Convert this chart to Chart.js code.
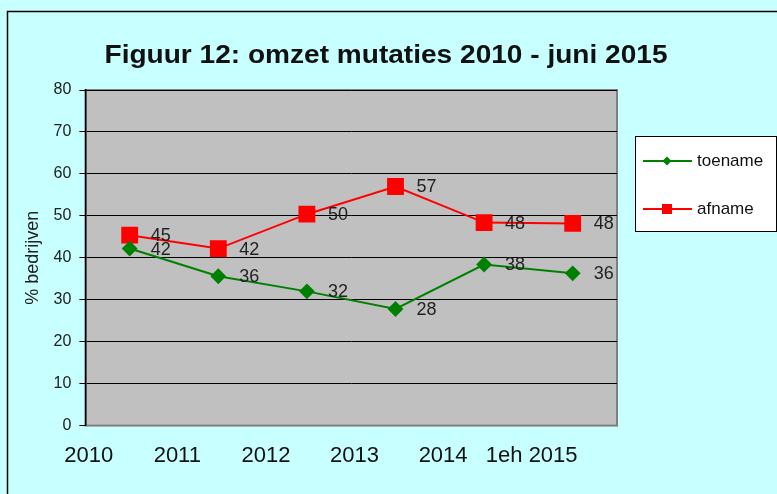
<!DOCTYPE html>
<html>
<head>
<meta charset="utf-8">
<script src="https://cdn.jsdelivr.net/npm/chart.js@4/dist/chart.umd.min.js"></script>
<style>
  html, body { margin: 0; padding: 0; background: #c8ffff; }
  #wrap { width: 777px; height: 494px; }
</style>
</head>
<body>
<div id="wrap"><canvas id="omzetChart" width="777" height="494"></canvas></div>
<script>
const years = ["2010", "2011", "2012", "2013", "2014", "1eh 2015"];
const toename = [42.2, 35.6, 32.0, 27.8, 38.4, 36.3];
const afname = [45.4, 42.2, 50.4, 57.0, 48.4, 48.2];
const yTicks = [0, 10, 20, 30, 40, 50, 60, 70, 80];

const FONT = "'Liberation Sans', Arial, sans-serif";
const ctx = document.getElementById("omzetChart").getContext("2d");

// cyan page + outer frame + grey plot box
const backgroundPlugin = {
  id: "backgroundPlugin",
  beforeDraw: (chart) => {
    const { ctx, chartArea } = chart;
    ctx.save();
    ctx.fillStyle = "#c8ffff";
    ctx.fillRect(0, 0, chart.width, chart.height);
    ctx.strokeStyle = "#000";
    ctx.lineWidth = 1.5;
    ctx.beginPath();
    ctx.moveTo(7.5, chart.height);
    ctx.lineTo(7.5, 11.5);
    ctx.lineTo(chart.width, 11.5);
    ctx.stroke();
    ctx.fillStyle = "#c0c0c0";
    ctx.fillRect(chartArea.left, chartArea.top, chartArea.right - chartArea.left, chartArea.bottom - chartArea.top);
    ctx.strokeStyle = "#808080";
    ctx.lineWidth = 2;
    ctx.strokeRect(chartArea.left, chartArea.top, chartArea.right - chartArea.left, chartArea.bottom - chartArea.top);
    ctx.restore();
  },
};

// title is a bit wider than a normal font in the original
const titlePlugin = {
  id: "titlePlugin",
  afterDraw: (chart) => {
    const { ctx } = chart;
    const text = "Figuur 12: omzet mutaties 2010 - juni 2015";
    ctx.save();
    ctx.font = "bold 26px " + FONT;
    const w = ctx.measureText(text).width;
    ctx.translate(386, 63);
    ctx.scale(563 / w, 1);
    ctx.fillStyle = "#111";
    ctx.textAlign = "center";
    ctx.textBaseline = "alphabetic";
    ctx.fillText(text, 0, 0);
    ctx.restore();
  },
};

const valueLabels = {
  id: "valueLabels",
  afterDatasetsDraw(chart) {
    const { ctx, data } = chart;
    ctx.save();
    ctx.font = "18px " + FONT;
    ctx.fillStyle = "#222";
    ctx.textBaseline = "middle";
    data.datasets.forEach((ds, di) => {
      const meta = chart.getDatasetMeta(di);
      meta.data.forEach((pt, i) => {
        ctx.fillText(String(Math.round(ds.data[i])), pt.x + 21, pt.y + 1);
      });
    });
    ctx.restore();
  },
};

const boxLegend = {
  id: "boxLegend",
  afterDraw(chart) {
    const { ctx, data } = chart;
    const box = { x: 635.5, y: 136.5, w: 141, h: 95 };
    ctx.save();
    ctx.fillStyle = "#fff";
    ctx.fillRect(box.x, box.y, box.w, box.h);
    ctx.strokeStyle = "#000";
    ctx.lineWidth = 1;
    ctx.strokeRect(box.x, box.y, box.w, box.h);
    ctx.font = "17px " + FONT;
    ctx.textBaseline = "middle";
    data.datasets.forEach((ds, di) => {
      const y = 161 + di * 48;
      ctx.strokeStyle = ds.borderColor;
      ctx.lineWidth = 2;
      ctx.beginPath();
      ctx.moveTo(643, y);
      ctx.lineTo(692, y);
      ctx.stroke();
      ctx.fillStyle = ds.borderColor;
      ctx.beginPath();
      if (ds.pointStyle === "rect") {
        ctx.rect(662, y - 5, 10, 10);
      } else {
        ctx.moveTo(667, y - 4.5);
        ctx.lineTo(671.5, y);
        ctx.lineTo(667, y + 4.5);
        ctx.lineTo(662.5, y);
        ctx.closePath();
      }
      ctx.fill();
      ctx.fillStyle = "#111";
      ctx.fillText(ds.label, 697, y);
    });
    ctx.restore();
  },
};

new Chart(ctx, {
  type: "line",
  data: {
    labels: years,
    datasets: [
      {
        label: "toename",
        data: toename,
        borderColor: "#008000",
        backgroundColor: "#008000",
        borderWidth: 2,
        pointStyle: "rectRot",
        pointRadius: 6.5,
        pointHoverRadius: 6.5,
        tension: 0,
      },
      {
        label: "afname",
        data: afname,
        borderColor: "#ff0000",
        backgroundColor: "#ff0000",
        borderWidth: 2,
        pointStyle: "rect",
        pointRadius: 10.5,
        pointHoverRadius: 10.5,
        tension: 0,
      },
    ],
  },
  options: {
    responsive: false,
    animation: false,
    events: [],
    layout: {
      padding: { left: 17, right: 160, top: 90, bottom: 8 },
    },
    plugins: {
      legend: { display: false },
      tooltip: { enabled: false },
    },
    scales: {
      x: {
        offset: true,
        grid: { display: false, drawTicks: false },
        border: { display: false },
        ticks: {
          padding: 17,
          labelOffset: -41,
          maxRotation: 0,
          autoSkip: false,
          color: "#111",
          font: { family: FONT, size: 22 },
        },
      },
      y: {
        min: 0,
        max: 80,
        afterBuildTicks: (axis) => {
          axis.ticks = yTicks.map((v) => ({ value: v }));
        },
        grid: {
          color: (c) => (c.tick && c.tick.value === 0 ? "#808080" : "#000"),
          lineWidth: 1,
          tickLength: 6,
          tickColor: "#000",
        },
        border: { display: true, color: "#000", width: 1.5 },
        ticks: {
          padding: 8,
          color: "#222",
          font: { family: FONT, size: 16 },
        },
        title: {
          display: true,
          text: "% bedrijven",
          color: "#222",
          padding: { top: 5, bottom: 2 },
          font: { family: FONT, size: 18 },
        },
      },
    },
  },
  plugins: [backgroundPlugin, valueLabels, titlePlugin, boxLegend],
});
</script>
</body>
</html>
